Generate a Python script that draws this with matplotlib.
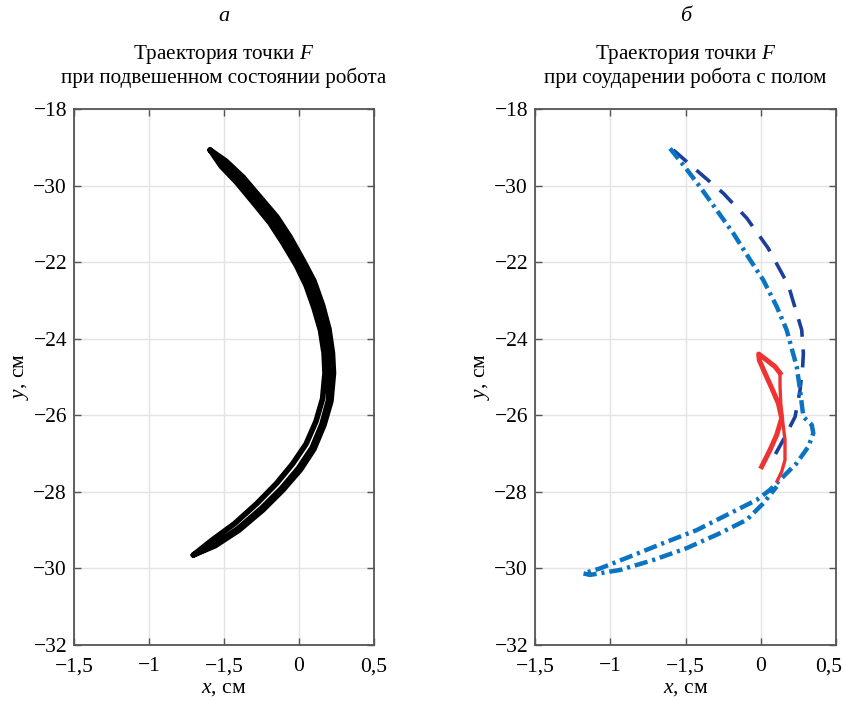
import matplotlib
matplotlib.use("Agg")
import matplotlib.pyplot as plt
import matplotlib.transforms as mtransforms

plt.rcParams['font.family'] = ['Liberation Serif', 'DejaVu Serif']
plt.rcParams['mathtext.fontset'] = 'custom'
plt.rcParams['mathtext.rm'] = 'Liberation Serif'
plt.rcParams['mathtext.it'] = 'Liberation Serif:italic'

# ticks (labels exactly as printed in the source)
x_ticks = [-1.5, -1.0, -0.5, 0.0, 0.5]
x_labels = ['\u22121,5', '\u22121', '\u22121,5', '0', '0,5']
y_ticks = [-32, -30, -28, -26, -24, -22, -20, -18]
y_labels = ['\u221232', '\u221230', '\u221228', '\u221226', '\u221224', '\u221222', '\u221230', '\u221218']

# (a) suspended robot: trajectory of F (outer strand down, inner up, middle down)
black_x = [-0.593, -0.487, -0.373, -0.26, -0.147, -0.06, 0.03, 0.1, 0.157, 0.2, 0.223, 0.23, 0.213, 0.167,
           0.1, 0.01, -0.107, -0.24, -0.4, -0.56, -0.705,
           -0.583, -0.43, -0.28, -0.15, -0.043, 0.047, 0.113, 0.157, 0.173, 0.167, 0.143, 0.1, 0.047,
           -0.017, -0.107, -0.193, -0.303, -0.413, -0.52, -0.593,
           -0.505, -0.393, -0.282, -0.171, -0.082, 0.007, 0.073, 0.129, 0.173, 0.195, 0.202, 0.197, 0.153,
           0.087, -0.003, -0.117, -0.25, -0.407, -0.567, -0.705]
black_y = [-19.07, -19.36, -19.78, -20.30, -20.82, -21.34, -21.97, -22.49, -23.12, -23.75, -24.37, -24.90,
           -25.63, -26.25, -26.88, -27.42, -27.95, -28.47, -29.00, -29.41, -29.65,
           -29.27, -28.83, -28.30, -27.78, -27.27, -26.75, -26.16, -25.57, -24.90, -24.38, -23.78, -23.20,
           -22.61, -22.09, -21.50, -20.98, -20.45, -19.93, -19.49, -19.07,
           -19.42, -19.85, -20.38, -20.90, -21.42, -22.03, -22.55, -23.16, -23.77, -24.38, -24.90, -25.60,
           -26.23, -26.85, -27.38, -27.91, -28.43, -28.96, -29.39, -29.65]

# (б) impact with floor
dark_x = [-0.581, -0.415, -0.249, -0.093, 0.05, 0.183, 0.272, 0.283, 0.279, 0.261, 0.228, 0.15, 0.088]
dark_y = [-19.07, -19.64, -20.20, -20.85, -21.64, -22.60, -23.77, -24.38, -24.69, -25.34, -26.04, -26.64, -27.08]

light_x = [-0.603, -0.515, -0.404, -0.293, -0.182, -0.071, 0.017, 0.106, 0.172, 0.208, 0.239, 0.261, 0.283,
           0.339, 0.349, 0.316, 0.239, 0.15, 0.061, -0.027, -0.204, -0.426, -0.648, -0.869, -1.068, -1.179,
           -1.135, -0.935, -0.714, -0.492, -0.271, -0.093, 0.017, 0.106]
light_y = [-19.03, -19.46, -20.03, -20.64, -21.25, -21.94, -22.47, -23.16, -23.77, -24.29, -24.73, -25.34, -26.04,
           -26.25, -26.47, -26.82, -27.25, -27.60, -27.95, -28.21, -28.56, -29.00, -29.34, -29.69, -30.00, -30.13,
           -30.17, -30.04, -29.78, -29.47, -29.08, -28.73, -28.30, -27.86]

red_a_x = [0.006, 0.061, 0.106, 0.139, 0.117, 0.073, 0.028, -0.01, -0.014, 0.04, 0.095, 0.128]
red_a_y = [-27.34, -26.91, -26.51, -26.08, -25.69, -25.29, -24.90, -24.56, -24.40, -24.56, -24.73, -24.90]
red_b_x = [0.128, 0.128, 0.133, 0.146, 0.161, 0.161, 0.139, 0.11]
red_b_y = [-24.90, -25.25, -25.69, -26.17, -26.64, -27.17, -27.47, -27.71]

fig = plt.figure(figsize=(8.46, 7.01), dpi=100)
ax1 = fig.add_axes([0.0875, 0.0799, 0.3546, 0.7646])
ax2 = fig.add_axes([0.6324, 0.0799, 0.3558, 0.7646])

ax1.plot(black_x, black_y, color='black', lw=4, solid_capstyle='round', solid_joinstyle='round')

ax2.plot(dark_x, dark_y, color='#1c3f9c', lw=2.6, linestyle=(0, (5, 3.5)))
ax2.plot(light_x, light_y, color='#0a74c2', lw=3.2, linestyle=(0, (3, 1.1, 0.7, 1.1)))
ax2.plot(red_a_x, red_a_y, color='#ee3333', lw=3.6, solid_joinstyle='round')
ax2.plot(red_b_x, red_b_y, color='#ee3333', lw=2.4, solid_joinstyle='round')

titles = ['\u0422\u0440\u0430\u0435\u043a\u0442\u043e\u0440\u0438\u044f \u0442\u043e\u0447\u043a\u0438 $F$\n'
          '\u043f\u0440\u0438 \u043f\u043e\u0434\u0432\u0435\u0448\u0435\u043d\u043d\u043e\u043c '
          '\u0441\u043e\u0441\u0442\u043e\u044f\u043d\u0438\u0438 \u0440\u043e\u0431\u043e\u0442\u0430',
          '\u0422\u0440\u0430\u0435\u043a\u0442\u043e\u0440\u0438\u044f \u0442\u043e\u0447\u043a\u0438 $F$\n'
          '\u043f\u0440\u0438 \u0441\u043e\u0443\u0434\u0430\u0440\u0435\u043d\u0438\u0438 '
          '\u0440\u043e\u0431\u043e\u0442\u0430 \u0441 \u043f\u043e\u043b\u043e\u043c']
letters = ['\u0430', '\u0431']

for ax, title, letter in zip([ax1, ax2], titles, letters):
    ax.set_xlim(-1.5, 0.5)
    ax.set_ylim(-32, -18)
    ax.set_xticks(x_ticks)
    ax.set_xticklabels(x_labels)
    ax.set_yticks(y_ticks)
    ax.set_yticklabels(y_labels)
    ax.tick_params(direction='in', top=True, right=True, labelsize=15.5, length=5,
                   color='#555555', width=1)
    ax.tick_params(axis='x', pad=9)
    ax.tick_params(axis='y', pad=5)
    ax.grid(True, color='#e3e3e3', lw=1)
    ax.set_axisbelow(True)
    for s in ax.spines.values():
        s.set_color('#555555')
        s.set_linewidth(1.3)
    ax.set_xlabel('$x$, \u0441\u043c', fontsize=15.5, labelpad=2)
    ax.set_ylabel('$y$, \u0441\u043c', fontsize=15.5, labelpad=2)
    ax.set_title(title, fontsize=15.2, pad=19, linespacing=1.05)
    ax.text(0.5, 1.155, letter, transform=ax.transAxes, ha='center', va='bottom',
            fontsize=16, style='italic')

# keep the last tick label of the right panel inside the figure
last = ax2.get_xticklabels()[-1]
last.set_transform(last.get_transform() + mtransforms.ScaledTranslation(-0.07, 0, fig.dpi_scale_trans))

fig.savefig('out.png', dpi=100)
